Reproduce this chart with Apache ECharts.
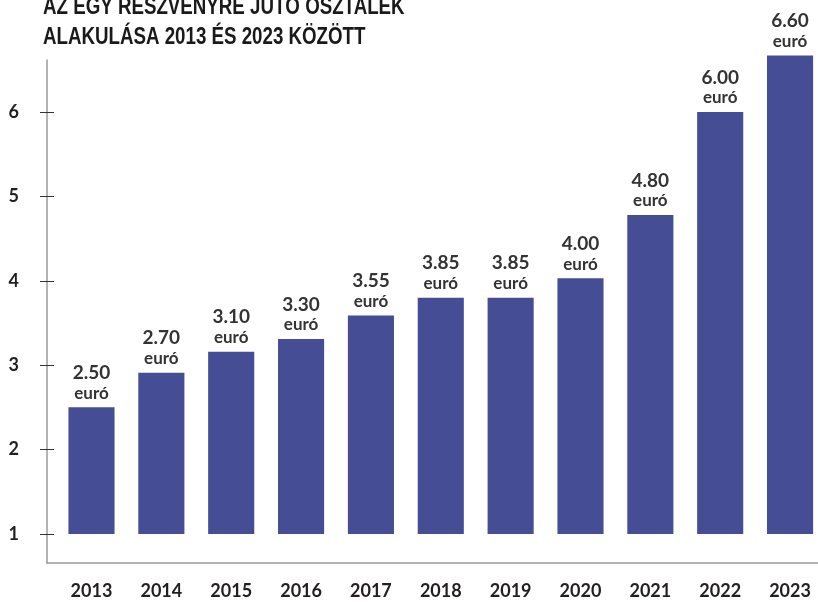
<!DOCTYPE html>
<html>
<head>
<meta charset="utf-8">
<script src="https://cdn.jsdelivr.net/npm/echarts@6/dist/echarts.min.js"></script>
<style>
  html, body { margin: 0; padding: 0; background: #fff; }
  #chart { width: 818px; height: 602px; }
</style>
</head>
<body>
<div id="chart"></div>
<script>
var years = [2013, 2014, 2015, 2016, 2017, 2018, 2019, 2020, 2021, 2022, 2023];
// bar heights as drawn in the picture
var heights = [2.50, 2.91, 3.16, 3.31, 3.59, 3.80, 3.80, 4.03, 4.78, 6.00, 6.67];
// printed values above the bars
var valueLabels = ['2.50', '2.70', '3.10', '3.30', '3.55', '3.85', '3.85', '4.00', '4.80', '6.00', '6.60'];
var yTicks = [1, 2, 3, 4, 5, 6];
var baseline = 1;

var chart = echarts.init(document.getElementById('chart'));

var textColor = '#231f20';
var barColor = '#454d94';

var barData = [];
for (var i = 0; i < years.length; i++) {
    barData.push([years[i], heights[i]]);
}

// bars start at 1, not at the axis minimum
function renderBar(params, api) {
    var x = api.value(0);
    var top = api.coord([x, api.value(1)]);
    var bot = api.coord([x, baseline]);
    var w = api.size([1, 0])[0] * 0.66;
    return {
        type: 'rect',
        shape: { x: top[0] - w / 2, y: top[1], width: w, height: bot[1] - top[1] },
        style: { fill: barColor },
        textContent: {
            style: {
                text: '{v|' + valueLabels[params.dataIndex] + '}\n{u|euró}',
                align: 'center',
                rich: {
                    v: { fontFamily: 'Lato', fontWeight: 'bold', fontSize: 19, lineHeight: 21, color: textColor, align: 'center' },
                    u: { fontFamily: 'Lato', fontWeight: 'bold', fontSize: 17, lineHeight: 20, color: textColor, align: 'center' }
                }
            }
        },
        textConfig: { position: 'top', distance: 4 }
    };
}

var option = {
    animation: false,
    graphic: [{
        type: 'text',
        left: 43,
        top: -8,
        scaleX: 0.78,
        style: {
            text: 'AZ EGY RÉSZVÉNYRE JUTÓ OSZTALÉK\nALAKULÁSA 2013 ÉS 2023 KÖZÖTT',
            font: 'bold 24px "Liberation Sans"',
            lineHeight: 30,
            fill: '#1a1a1a'
        }
    }],
    grid: { left: 47, right: 0, top: 60, bottom: 39 },
    xAxis: {
        type: 'value',
        min: 2012.363,
        max: 2023.40,
        splitLine: { show: false },
        axisTick: { show: false },
        axisLine: { show: true, lineStyle: { color: '#9a9a9a', width: 1.5 } },
        axisLabel: {
            customValues: years,
            formatter: function (v) { return String(v); },
            margin: 19,
            color: textColor,
            fontFamily: 'Lato',
            fontWeight: 'bold',
            fontSize: 18
        }
    },
    yAxis: [
        {
            type: 'value',
            min: 0.656,
            max: 6.616,
            splitLine: { show: false },
            axisLine: { show: true, lineStyle: { color: '#9a9a9a', width: 1.5 } },
            axisTick: { show: true, customValues: yTicks, length: 7, lineStyle: { color: '#333', width: 1 } },
            axisLabel: {
                customValues: yTicks,
                margin: 28,
                color: textColor,
                fontFamily: 'Lato',
                fontWeight: 'bold',
                fontSize: 18
            }
        },
        {
            type: 'value',
            position: 'left',
            min: 0.656,
            max: 6.616,
            splitLine: { show: false },
            axisLine: { show: false },
            axisTick: { show: true, inside: true, customValues: yTicks, length: 7, lineStyle: { color: '#333', width: 1 } },
            axisLabel: { show: false }
        }
    ],
    series: [
        {
            type: 'custom',
            renderItem: renderBar,
            clip: false,
            encode: { x: 0, y: 1 },
            data: barData
        }
    ]
};

chart.setOption(option);
</script>
</body>
</html>
